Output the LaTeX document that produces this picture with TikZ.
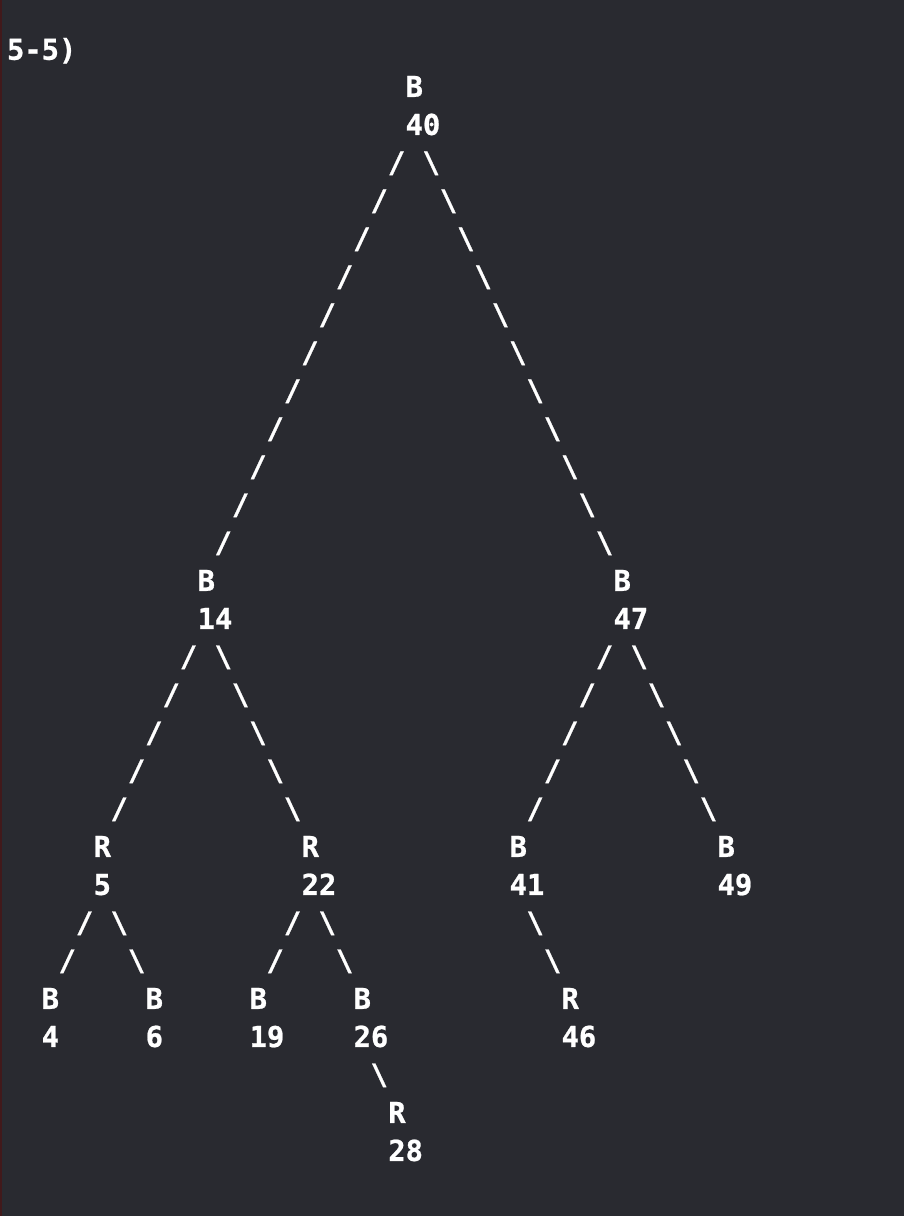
\documentclass[tikz,border=0pt]{standalone}
\usepackage{fontspec}
\setmonofont[BoldFeatures={FakeBold=0.8}]{DejaVu Sans Mono}
\usetikzlibrary{calc}

\definecolor{termbg}{HTML}{292A30}
\definecolor{termtxt}{HTML}{FFFFFF}
\definecolor{termedge}{HTML}{41191B}

\tikzset{
    txt/.style={text=termtxt, inner sep=0pt, font=\ttfamily\bfseries\fontsize{14.39pt}{19pt}\selectfont},
    entry/.style={txt, anchor=north west, align=left, xshift=-4.33pt, yshift=5.24pt},
    glyph/.style={txt, anchor=base, yshift=-5.24pt}
}

\begin{document}
\begin{tikzpicture}[x=8.665pt, y=-19pt]
    % screen
    \fill[termbg] (-0.883,-1.263) rectangle (51.28,30.737);
    \fill[termedge] (-0.883,-1.263) rectangle (-0.77,30.737);

    \node[entry] (title) at (0,0) {5-5)};

    % tree entries: colour on top, key below
    \node[entry] (b40) at (23,1) {B\\40};
    \node[entry] (b14) at (11,14) {B\\14};
    \node[entry] (b47) at (35,14) {B\\47};
    \node[entry] (r5) at (5,21) {R\\5};
    \node[entry] (r22) at (17,21) {R\\22};
    \node[entry] (b41) at (29,21) {B\\41};
    \node[entry] (b49) at (41,21) {B\\49};
    \node[entry] (b4) at (2,25) {B\\4};
    \node[entry] (b6) at (8,25) {B\\6};
    \node[entry] (b19) at (14,25) {B\\19};
    \node[entry] (b26) at (20,25) {B\\26};
    \node[entry] (r46) at (32,25) {R\\46};
    \node[entry] (r28) at (22,28) {R\\28};

    % links, one slash per row
    \foreach \r in {3,...,13} \node[glyph] at (25-\r,\r) {/};
    \foreach \r in {3,...,13} \node[glyph] at (21+\r,\r) {\textbackslash};
    \foreach \r in {16,...,20} \node[glyph] at (26-\r,\r) {/};
    \foreach \r in {16,...,20} \node[glyph] at (\r-4,\r) {\textbackslash};
    \foreach \r in {16,...,20} \node[glyph] at (50-\r,\r) {/};
    \foreach \r in {16,...,20} \node[glyph] at (\r+20,\r) {\textbackslash};
    \foreach \r in {23,24} \node[glyph] at (27-\r,\r) {/};
    \foreach \r in {23,24} \node[glyph] at (\r-17,\r) {\textbackslash};
    \foreach \r in {23,24} \node[glyph] at (39-\r,\r) {/};
    \foreach \r in {23,24} \node[glyph] at (\r-5,\r) {\textbackslash};
    \foreach \r in {23,24} \node[glyph] at (\r+7,\r) {\textbackslash};
    \node[glyph] at (21,27) {\textbackslash};
\end{tikzpicture}
\end{document}
